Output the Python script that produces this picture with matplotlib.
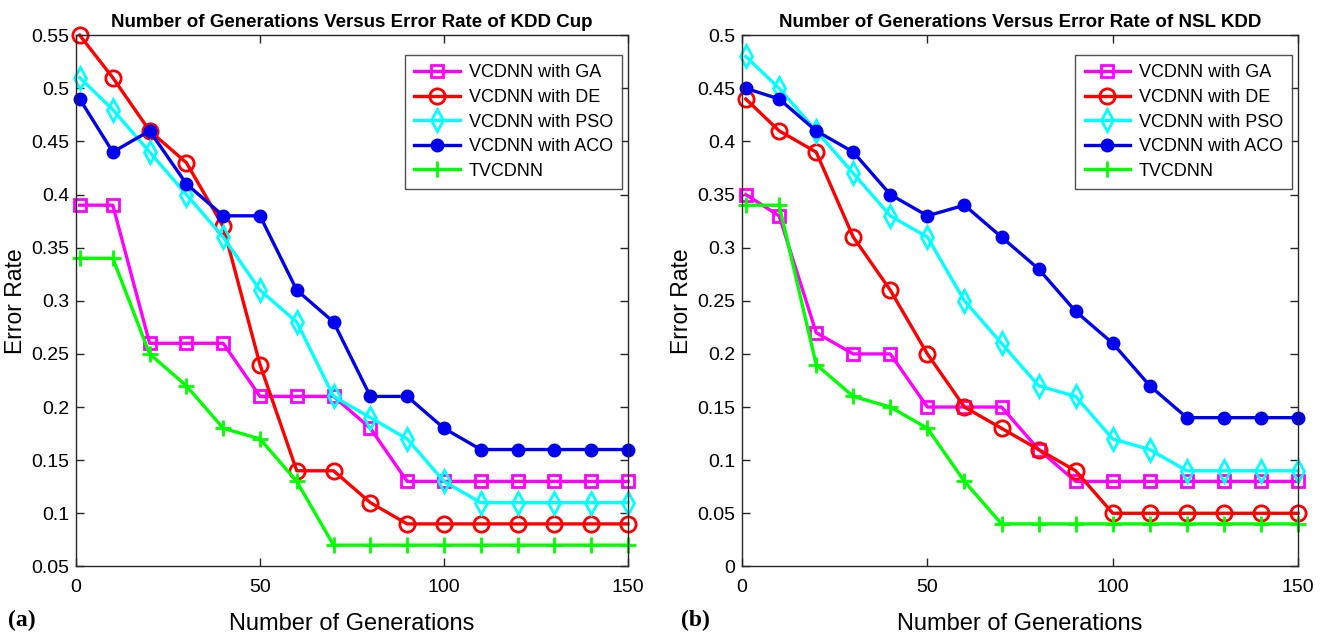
import matplotlib
matplotlib.use("Agg")
import matplotlib.pyplot as plt
from matplotlib.ticker import FuncFormatter

generations = [1, 10, 20, 30, 40, 50, 60, 70, 80, 90, 100, 110, 120, 130, 140, 150]
series_names = ["VCDNN with GA", "VCDNN with DE", "VCDNN with PSO", "VCDNN with ACO", "TVCDNN"]

kdd_ga = [0.39, 0.39, 0.26, 0.26, 0.26, 0.21, 0.21, 0.21, 0.18, 0.13, 0.13, 0.13, 0.13, 0.13, 0.13, 0.13]
kdd_de = [0.55, 0.51, 0.46, 0.43, 0.37, 0.24, 0.14, 0.14, 0.11, 0.09, 0.09, 0.09, 0.09, 0.09, 0.09, 0.09]
kdd_pso = [0.51, 0.48, 0.44, 0.40, 0.36, 0.31, 0.28, 0.21, 0.19, 0.17, 0.13, 0.11, 0.11, 0.11, 0.11, 0.11]
kdd_aco = [0.49, 0.44, 0.46, 0.41, 0.38, 0.38, 0.31, 0.28, 0.21, 0.21, 0.18, 0.16, 0.16, 0.16, 0.16, 0.16]
kdd_tv = [0.34, 0.34, 0.25, 0.22, 0.18, 0.17, 0.13, 0.07, 0.07, 0.07, 0.07, 0.07, 0.07, 0.07, 0.07, 0.07]

nsl_ga = [0.35, 0.33, 0.22, 0.20, 0.20, 0.15, 0.15, 0.15, 0.11, 0.08, 0.08, 0.08, 0.08, 0.08, 0.08, 0.08]
nsl_de = [0.44, 0.41, 0.39, 0.31, 0.26, 0.20, 0.15, 0.13, 0.11, 0.09, 0.05, 0.05, 0.05, 0.05, 0.05, 0.05]
nsl_pso = [0.48, 0.45, 0.41, 0.37, 0.33, 0.31, 0.25, 0.21, 0.17, 0.16, 0.12, 0.11, 0.09, 0.09, 0.09, 0.09]
nsl_aco = [0.45, 0.44, 0.41, 0.39, 0.35, 0.33, 0.34, 0.31, 0.28, 0.24, 0.21, 0.17, 0.14, 0.14, 0.14, 0.14]
nsl_tv = [0.34, 0.34, 0.19, 0.16, 0.15, 0.13, 0.08, 0.04, 0.04, 0.04, 0.04, 0.04, 0.04, 0.04, 0.04, 0.04]

titles = ["Number of Generations Versus Error Rate of KDD Cup",
          "Number of Generations Versus Error Rate of NSL KDD"]
panel_labels = ["(a)", "(b)"]

styles = [
    dict(color="#ff00ff", marker="s", mfc="none", ms=9),
    dict(color="#ff0000", marker="o", mfc="none", ms=11),
    dict(color="#00ffff", marker="d", mfc="none", ms=11),
    dict(color="#0000ee", marker="o", mfc="#0000ee", ms=8),
    dict(color="#00ff00", marker="+", mfc="none", ms=11),
]

plt.rcParams['font.family'] = ['Liberation Sans', 'DejaVu Sans']

fig = plt.figure(figsize=(13.22, 6.4), dpi=100)
ax1 = fig.add_axes([0.0575, 0.115, 0.4175, 0.83])
ax2 = fig.add_axes([0.5613, 0.115, 0.4206, 0.83])

datasets = [
    (ax1, [kdd_ga, kdd_de, kdd_pso, kdd_aco, kdd_tv], (0.05, 0.55), [0.05 + 0.05 * i for i in range(11)]),
    (ax2, [nsl_ga, nsl_de, nsl_pso, nsl_aco, nsl_tv], (0.0, 0.5), [0.05 * i for i in range(11)]),
]

fmt = FuncFormatter(lambda v, p: ("%g" % round(v, 2)))

for idx, (ax, data, ylim, yticks) in enumerate(datasets):
    for name, vals, st in zip(series_names, data, styles):
        ax.plot(generations, vals, label=name, lw=2.4, mew=2, color=st["color"],
                marker=st["marker"], mfc=st["mfc"], ms=st["ms"], mec=st["color"], clip_on=False)
    ax.set_xlim(0, 150)
    ax.set_ylim(*ylim)
    ax.set_xticks([0, 50, 100, 150])
    ax.set_yticks(yticks)
    ax.yaxis.set_major_formatter(fmt)
    ax.tick_params(direction="in", top=True, right=True, labelsize=14, length=6, width=1, colors="#262626",
                   labelcolor="black")
    ax.tick_params(axis="x", pad=9)
    ax.tick_params(axis="y", pad=5)
    for s in ax.spines.values():
        s.set_color("#262626")
        s.set_linewidth(1.0)
    ax.set_title(titles[idx], fontsize=13.5, fontweight="bold", pad=6)
    ax.set_xlabel("Number of Generations", fontsize=17, labelpad=12)
    ax.set_ylabel("Error Rate", fontsize=16.5, labelpad=3)
    leg = ax.legend(loc="upper right", fontsize=13, frameon=True, fancybox=False,
                    edgecolor="#262626", handlelength=2.5, borderpad=0.5, labelspacing=0.42,
                    handletextpad=0.5, borderaxespad=0, bbox_to_anchor=(0.989, 0.962))
    leg.get_frame().set_linewidth(1.0)

fig.text(0.006, 0.022, panel_labels[0], fontsize=17, fontweight="bold", family=["Liberation Serif", "DejaVu Serif"])
fig.text(0.515, 0.022, panel_labels[1], fontsize=17, fontweight="bold", family=["Liberation Serif", "DejaVu Serif"])

fig.savefig("out.png", dpi=100)
